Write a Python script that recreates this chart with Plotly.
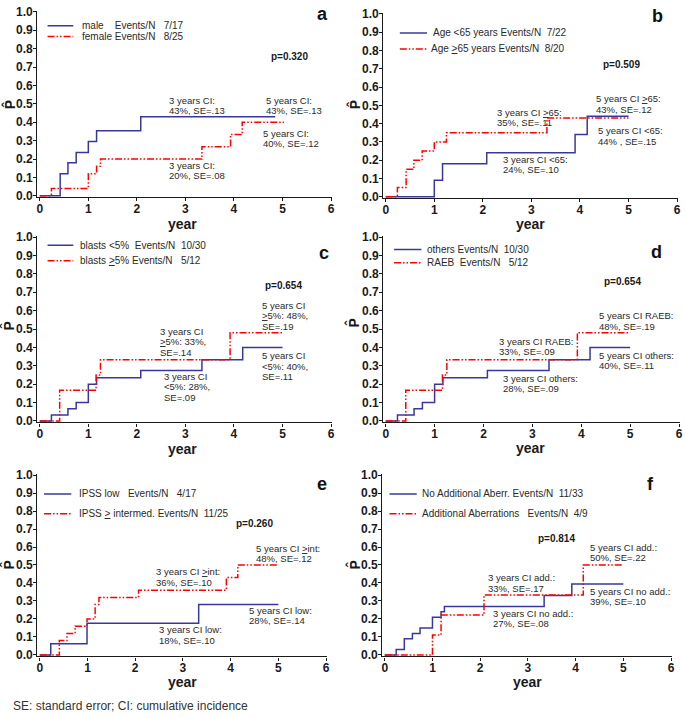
import plotly.graph_objects as go

W, H = 685, 718
BLUE = "#38389c"
RED = "#ff0000"
TXT = "#2a2a2a"
FONT = "Liberation Sans"
RED_DASH = "7px,2px,1.5px,2px,1.5px,2px"

# ---------------- data ----------------
# panel a: sex
a_blue_t = [0, 0.42, 0.58, 0.75, 1.0, 1.17, 2.08, 4.85]
a_blue_p = [0, 0.12, 0.18, 0.235, 0.295, 0.353, 0.43, 0.43]
a_red_t = [0, 0.24, 1.0, 1.17, 1.25, 3.34, 3.93, 4.17, 5.03]
a_red_p = [0, 0.04, 0.12, 0.16, 0.20, 0.267, 0.333, 0.40, 0.40]
a_names = ["male&nbsp;&nbsp;&nbsp;&nbsp;Events/N&nbsp;&nbsp;&nbsp;7/17",
           "female Events/N&nbsp;&nbsp;&nbsp;8/25"]

# panel b: age
b_blue_t = [0, 1.0, 1.17, 2.08, 3.9, 4.15, 5.0]
b_blue_p = [0, 0.09, 0.18, 0.24, 0.34, 0.44, 0.44]
b_red_t = [0, 0.24, 0.42, 0.58, 0.75, 1.0, 1.25, 3.32, 5.0]
b_red_p = [0, 0.05, 0.15, 0.20, 0.25, 0.30, 0.35, 0.43, 0.43]
b_names = ["Age &lt;65 years Events/N&nbsp;&nbsp;7/22",
           "Age <u>&gt;</u>65 years Events/N&nbsp;&nbsp;8/20"]

# panel c: blasts
c_blue_t = [0, 0.24, 0.58, 0.75, 1.0, 1.17, 2.08, 3.34, 4.18, 5.0]
c_blue_p = [0, 0.033, 0.067, 0.10, 0.20, 0.235, 0.275, 0.333, 0.40, 0.40]
c_red_t = [0, 0.41, 1.16, 1.25, 3.92, 5.0]
c_red_p = [0, 0.167, 0.25, 0.333, 0.48, 0.48]
c_names = ["blasts &lt;5%&nbsp;&nbsp;Events/N&nbsp;&nbsp;10/30",
           "blasts <u>&gt;</u>5% Events/N&nbsp;&nbsp;&nbsp;5/12"]

# panel d: WHO type
d_blue_t = [0, 0.24, 0.58, 0.75, 1.0, 1.17, 2.08, 3.34, 4.18, 5.0]
d_blue_p = [0, 0.033, 0.067, 0.10, 0.20, 0.235, 0.275, 0.333, 0.40, 0.40]
d_red_t = [0, 0.41, 1.16, 1.25, 3.92, 5.0]
d_red_p = [0, 0.167, 0.25, 0.333, 0.48, 0.48]
d_names = ["others Events/N&nbsp;&nbsp;10/30",
           "RAEB&nbsp;&nbsp;Events/N&nbsp;&nbsp;&nbsp;5/12"]

# panel e: IPSS
e_blue_t = [0, 0.23, 0.99, 3.33, 5.0]
e_blue_p = [0, 0.063, 0.176, 0.28, 0.28]
e_red_t = [0, 0.41, 0.57, 0.74, 0.99, 1.16, 1.24, 2.07, 3.91, 4.15, 5.0]
e_red_p = [0, 0.08, 0.12, 0.16, 0.20, 0.28, 0.32, 0.36, 0.43, 0.50, 0.50]
e_names = ["IPSS low&nbsp;&nbsp;&nbsp;Events/N&nbsp;&nbsp;&nbsp;4/17",
           "IPSS <u>&gt;</u> intermed. Events/N&nbsp;&nbsp;11/25"]

# panel f: additional aberrations
f_blue_t = [0, 0.24, 0.41, 0.58, 0.74, 1.0, 1.18, 1.25, 3.34, 3.92, 5.0]
f_blue_p = [0, 0.03, 0.09, 0.12, 0.15, 0.21, 0.24, 0.27, 0.33, 0.394, 0.394]
f_red_t = [0, 1.0, 1.18, 2.08, 4.16, 5.0]
f_red_p = [0, 0.111, 0.222, 0.333, 0.50, 0.50]
f_names = ["No Additional Aberr. Events/N&nbsp;&nbsp;11/33",
           "Additional Aberrations&nbsp;&nbsp;&nbsp;Events/N&nbsp;&nbsp;4/9"]

letters = ["a", "b", "c", "d", "e", "f"]
pvalues = ["p=0.320", "p=0.509", "p=0.654", "p=0.654", "p=0.260", "p=0.814"]

a_notes = [["3 years CI:", "43%, SE=.13"], ["5 years CI:", "43%, SE=.13"],
           ["5 years CI:", "40%, SE=.12"], ["3 years CI:", "20%, SE=.08"]]
b_notes = [["3 years CI <u>&gt;</u>65:", "35%, SE=.11"], ["5 years CI <u>&gt;</u>65:", "43%, SE=.12"],
           ["5 years CI &lt;65:", "44% , SE=.15"], ["3 years CI &lt;65:", "24%, SE=.10"]]
c_notes = [["5 years CI", "<u>&gt;</u>5%: 48%,", "SE=.19"], ["3 years CI", "<u>&gt;</u>5%: 33%,", "SE=.14"],
           ["3 years CI", "&lt;5%: 28%,", "SE=.09"], ["5 years CI", "&lt;5%: 40%,", "SE=.11"]]
d_notes = [["5 years CI RAEB:", "48%, SE=.19"], ["3 years CI RAEB:", "33%, SE=.09"],
           ["3 years CI others:", "28%, SE=.09"], ["5 years CI others:", "40%, SE=.11"]]
e_notes = [["5 years CI <u>&gt;</u>int:", "48%, SE=.12"], ["3 years CI <u>&gt;</u>int:", "36%, SE=.10"],
           ["5 years CI low:", "28%, SE=.14"], ["3 years CI low:", "18%, SE=.10"]]
f_notes = [["5 years CI add.:", "50%, SE=.22"], ["3 years CI add.:", "33%, SE=.17"],
           ["5 years CI no add.:", "39%, SE=.10"], ["3 years CI no add.:", "27%, SE=.08"]]

x_ticks = [0, 1, 2, 3, 4, 5, 6]
y_ticks = [0.0, 0.1, 0.2, 0.3, 0.4, 0.5, 0.6, 0.7, 0.8, 0.9, 1.0]

# ---------------- layout helpers ----------------
XR = [-0.05, 6.01]
YR = [-0.008, 1.004]

# pixel placement of each panel: (px of x=0, px of x=6, px of y=1, px of y=0)
panel_px = [(39, 332, 6, 193), (387, 680, 8, 194),
            (39, 332, 235, 422), (387, 682, 235, 422),
            (39, 327, 477, 660), (386, 674, 477, 660)]

panels = [
    (a_blue_t, a_blue_p, a_red_t, a_red_p, a_names, a_notes),
    (b_blue_t, b_blue_p, b_red_t, b_red_p, b_names, b_notes),
    (c_blue_t, c_blue_p, c_red_t, c_red_p, c_names, c_notes),
    (d_blue_t, d_blue_p, d_red_t, d_red_p, d_names, d_notes),
    (e_blue_t, e_blue_p, e_red_t, e_red_p, e_names, e_notes),
    (f_blue_t, f_blue_p, f_red_t, f_red_p, f_names, f_notes),
]

# annotation anchor positions (data coords: left x, centre y)
note_pos = [
    [(2.63, 0.49), (4.61, 0.49), (4.56, 0.312), (2.63, 0.137)],
    [(2.25, 0.435), (4.28, 0.507), (4.33, 0.333), (2.37, 0.176)],
    [(4.54, 0.571), (2.44, 0.43), (2.52, 0.186), (4.54, 0.298)],
    [(4.33, 0.544), (2.27, 0.404), (2.35, 0.205), (4.33, 0.327)],
    [(4.49, 0.562), (2.39, 0.433), (4.35, 0.218), (2.45, 0.111)],
    [(4.26, 0.571), (2.13, 0.40), (4.26, 0.325), (2.22, 0.202)],
]
p_pos = [(4.72, 0.755), (4.43, 0.722), (4.59, 0.737), (4.43, 0.756), (4.08, 0.73), (3.18, 0.65)]
letter_pos = [(5.82, 0.99), (5.59, 0.99), (5.85, 0.911), (5.53, 0.92), (5.92, 0.95), (5.56, 0.95)]
# legend: sample x0, x1, row y's, text x
legend_pos = [
    (0.16, 0.69, (0.925, 0.866), (0.83, 0.83)),
    (0.29, 0.85, (0.896, 0.808), (0.94, 0.90)),
    (0.16, 0.69, (0.955, 0.871), (0.79, 0.79)),
    (0.17, 0.73, (0.932, 0.861), (0.80, 0.80)),
    (0.09, 0.66, (0.895, 0.785), (0.77, 0.77)),
    (0.10, 0.67, (0.895, 0.785), (0.73, 0.73)),
]
# "year" and P-hat label pixel positions
year_px = [(183, 222), (533, 222), (183, 451), (533, 450), (183, 687), (530, 687)]
phat_px = [(8, 100), (355, 100), (7, 325), (354, 322), (7, 568), (355, 568)]

fig = go.Figure()
annotations = []
shapes = []
LINE_SP = 10.3

for i, (bt, bp, rt, rp, names, notes) in enumerate(panels):
    k = "" if i == 0 else str(i + 1)
    xa, ya = "x" + k, "y" + k
    x0px, x6px, y1px, y0px = panel_px[i]
    ux = (x6px - x0px) / 6.0
    uy = (y0px - y1px)
    left = x0px + XR[0] * ux
    right = x0px + XR[1] * ux
    top = y0px - YR[1] * uy
    bottom = y0px - YR[0] * uy
    axis_common = dict(showgrid=False, zeroline=False, showline=True, linecolor="#1a1a1a",
                       linewidth=1.4, ticks="outside", ticklen=3, tickwidth=1,
                       tickcolor="#1a1a1a",
                       tickfont=dict(family=FONT, size=12, color="#1a1a1a", weight="bold"))
    fig.layout["xaxis" + k] = dict(domain=[left / W, right / W], range=XR, anchor=ya,
                                   tickvals=x_ticks, ticktext=[str(v) for v in x_ticks],
                                   ticklabelstandoff=-3, **axis_common)
    fig.layout["yaxis" + k] = dict(domain=[1 - bottom / H, 1 - top / H], range=YR, anchor=xa,
                                   tickvals=y_ticks, ticktext=["%.1f" % v for v in y_ticks],
                                   ticklabelstandoff=-2, **axis_common)

    fig.add_trace(go.Scatter(x=bt, y=bp, mode="lines", line=dict(color=BLUE, width=1.5, shape="hv"),
                             xaxis=xa, yaxis=ya, showlegend=False, hoverinfo="skip", cliponaxis=False))
    fig.add_trace(go.Scatter(x=rt, y=rp, mode="lines",
                             line=dict(color=RED, width=1.5, shape="hv", dash=RED_DASH),
                             xaxis=xa, yaxis=ya, showlegend=False, hoverinfo="skip", cliponaxis=False))

    # legend (drawn manually)
    lx0, lx1, rows, tx = legend_pos[i]
    for j, (col, dash) in enumerate([(BLUE, "solid"), (RED, RED_DASH)]):
        shapes.append(dict(type="line", xref=xa, yref=ya, x0=lx0, x1=lx1, y0=rows[j], y1=rows[j],
                           line=dict(color=col, width=1.5, dash=dash)))
        annotations.append(dict(xref=xa, yref=ya, x=tx[j], y=rows[j], text=names[j], showarrow=False,
                                xanchor="left", yanchor="middle",
                                font=dict(family=FONT, size=10, color=TXT)))

    # CI annotations, line by line
    for note, (nx, ny) in zip(notes, note_pos[i]):
        n = len(note)
        for j, line in enumerate(note):
            annotations.append(dict(xref=xa, yref=ya, x=nx, y=ny, text=line, showarrow=False,
                                    xanchor="left", yanchor="middle",
                                    yshift=((n - 1) / 2.0 - j) * LINE_SP,
                                    font=dict(family=FONT, size=9.5, color=TXT)))

    # p-value
    annotations.append(dict(xref=xa, yref=ya, x=p_pos[i][0], y=p_pos[i][1], text="<b>%s</b>" % pvalues[i],
                            showarrow=False, xanchor="left", yanchor="middle",
                            font=dict(family=FONT, size=10, color="#1a1a1a")))
    # panel letter
    annotations.append(dict(xref=xa, yref=ya, x=letter_pos[i][0], y=letter_pos[i][1],
                            text="<b>%s</b>" % letters[i], showarrow=False, xanchor="center",
                            yanchor="middle", font=dict(family=FONT, size=18, color="#111")))
    # "year"
    annotations.append(dict(xref="paper", yref="paper", x=year_px[i][0] / W, y=1 - year_px[i][1] / H,
                            text="<b>year</b>", showarrow=False, xanchor="center", yanchor="middle",
                            font=dict(family=FONT, size=14, color="#1a1a1a")))
    # P-hat
    annotations.append(dict(xref="paper", yref="paper", x=phat_px[i][0] / W, y=1 - phat_px[i][1] / H,
                            text="<b>P\u0302</b>", showarrow=False, xanchor="center", yanchor="middle",
                            textangle=-90, font=dict(family=FONT, size=14, color="#1a1a1a")))

annotations.append(dict(xref="paper", yref="paper", x=10 / W, y=1 - 712 / H,
                        text="SE: standard error; CI: cumulative incidence", showarrow=False,
                        xanchor="left", yanchor="middle",
                        font=dict(family=FONT, size=12, color="#333")))

fig.update_layout(width=W, height=H, autosize=False, margin=dict(l=0, r=0, t=0, b=0, pad=0),
                  paper_bgcolor="white", plot_bgcolor="white", showlegend=False,
                  annotations=annotations, shapes=shapes)

fig.write_html("out.html", config={"displayModeBar": False},
               post_script="document.body.style.margin='0';")
